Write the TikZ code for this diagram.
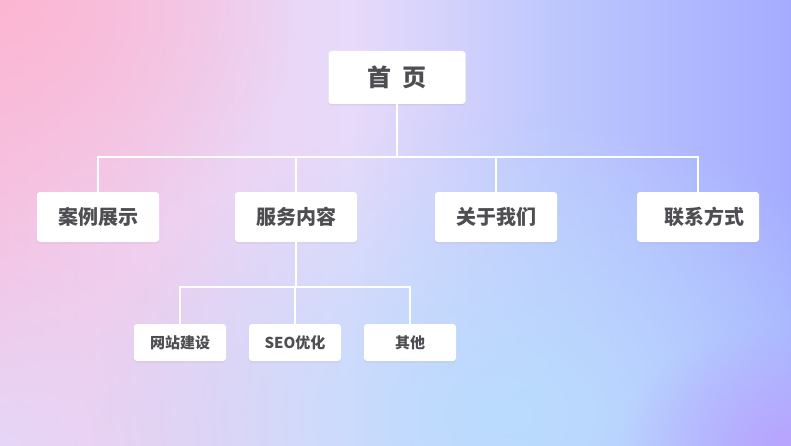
\documentclass[tikz,border=0pt]{standalone}
\usepackage{fontspec}
\newfontfamily\cjk{Noto Sans CJK SC}
\usetikzlibrary{shadows,fadings}

\definecolor{bgpink}{RGB}{252,182,210}
\definecolor{bgleft}{RGB}{244,198,230}
\definecolor{bglav}{RGB}{232,218,250}
\definecolor{bgdusk}{RGB}{230,214,247}
\definecolor{bgmist}{RGB}{190,200,253}
\definecolor{bgblue}{RGB}{165,172,255}
\definecolor{bgsky}{RGB}{186,220,254}
\definecolor{bgviolet}{RGB}{184,164,255}
\definecolor{inkgray}{RGB}{78,78,82}

\pgfdeclarehorizontalshading{bgbase}{100bp}{color(0bp)=(bgleft); color(25bp)=(bgleft);
    color(47bp)=(bglav); color(60bp)=(bgmist); color(75bp)=(bgblue); color(100bp)=(bgblue)}
\tikzfading[name=softblob, inner color=transparent!0, outer color=transparent!100]

\begin{document}
\begin{tikzpicture}[x=1pt, y=1pt,
    box/.style={draw=none, fill=white, rounded corners=3pt, text=inkgray, font=\cjk\bfseries,
        drop shadow={opacity=.12, shadow xshift=0pt, shadow yshift=-1.5pt}},
    topbox/.style={box, minimum width=137pt, minimum height=53pt, font=\cjk\bfseries\fontsize{24}{24}\selectfont},
    midbox/.style={box, minimum width=122pt, minimum height=50pt, font=\cjk\bfseries\fontsize{20}{20}\selectfont},
    subbox/.style={box, minimum width=92pt, minimum height=37pt, font=\cjk\bfseries\fontsize{15}{15}\selectfont},
    wire/.style={draw=white, line width=2pt}]
    \useasboundingbox (0,0) rectangle (791,445);

    % background
    \begin{scope}
        \clip (0,0) rectangle (791,445);
        \shade[shading=bgbase] (0,0) rectangle (791,445);
        \fill[bgdusk, path fading=softblob] (0,0) ellipse (280 and 200);
        \fill[bgpink, path fading=softblob] (0,445) ellipse (300 and 260);
        \fill[bgsky, path fading=softblob] (510,30) ellipse (420 and 300);
        \fill[bgviolet, path fading=softblob] (791,0) ellipse (170 and 120);
    \end{scope}

    \node[topbox] (home) at (397,367.5) {首\hspace{.45em}页};

    \node[midbox] (cases) at (98,228) {案例展示};
    \node[midbox, right of=cases, node distance=198pt] (service) {服务内容};
    \node[midbox, right of=service, node distance=200pt] (about) {关于我们};
    \node[midbox, right of=about, node distance=202pt] (contact) {\hspace{12pt}联系方式};

    \node[subbox] (web) at (180,102.5) {网站建设};
    \node[subbox, right of=web, node distance=115pt] (seo) {SEO优化};
    \node[subbox, right of=seo, node distance=115pt] (other) {其他};

    \coordinate (bus1) at (0,288);
    \coordinate (bus2) at (0,158);

    \draw[wire] (home.south) -- (home.south |- bus1) -| (cases.north);
    \draw[wire] (home.south) -- (home.south |- bus1) -| (service.north);
    \draw[wire] (home.south) -- (home.south |- bus1) -| (about.north);
    \draw[wire] (home.south) -- (home.south |- bus1) -| (contact.north);

    \draw[wire] (service.south) -- (service.south |- bus2) -| (web.north);
    \draw[wire] (service.south) -- (service.south |- bus2) -| (seo.north);
    \draw[wire] (service.south) -- (service.south |- bus2) -| (other.north);

\end{tikzpicture}
\end{document}
